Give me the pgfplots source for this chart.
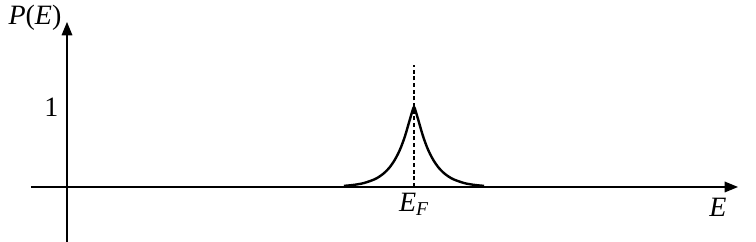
\documentclass[border=0pt]{standalone}
\usepackage{pgfplots}
\pgfplotsset{compat=1.18}
\usepackage{fontspec}
\setmainfont{Liberation Serif}
\usetikzlibrary{arrows.meta}
\begin{document}
\begin{tikzpicture}
\begin{axis}[
  x=0.75pt, y=60pt,
  scale only axis,
  axis lines=middle,
  axis line style={line width=0.9pt, -{Triangle[length=10pt,width=8pt]}},
  xmin=-36, xmax=671,
  ymin=-0.6875, ymax=2.0625,
  xtick={347}, xticklabels={\textit{E}\textsubscript{\textit{F}}},
  ytick={1}, yticklabels={1},
  major tick length=0pt,
  tick label style={font=\fontsize{21}{24}\selectfont},
  xticklabel style={yshift=-1pt},
  yticklabel style={xshift=-3pt},
  clip=false,
]
\addplot[black, line width=1.8pt, smooth] coordinates {
(277,0.0142) (287,0.0266) (297,0.0497) (307,0.093) (312,0.127) (317,0.173)
(322,0.236) (327,0.323) (331,0.414) (334,0.498) (337,0.599) (339,0.677)
(341,0.763) (343,0.850) (345,0.935) (346,0.975) (347,1.000) (348,0.975) (349,0.935) (351,0.850)
(353,0.763) (355,0.677) (357,0.599) (360,0.498) (363,0.414) (367,0.323)
(372,0.236) (377,0.173) (382,0.127) (387,0.093) (397,0.0497) (407,0.0266)
(417,0.0142)
};
\addplot[black, line width=0.9pt, dash pattern=on 3pt off 2pt] coordinates {(347,0) (347,1.525)};
\node[font=\fontsize{21}{24}\selectfont] at (axis cs:651,-0.26) {\textit{E}};
\node[font=\fontsize{21}{24}\selectfont] at (axis cs:-32,2.1125) {\textit{P}(\textit{E})};
\coordinate (bl) at (axis cs:-67,-0.6875);
\coordinate (tr) at (axis cs:689,2.3375);
\end{axis}
\pgfresetboundingbox
\path (bl) rectangle (tr);
\end{tikzpicture}
\end{document}
